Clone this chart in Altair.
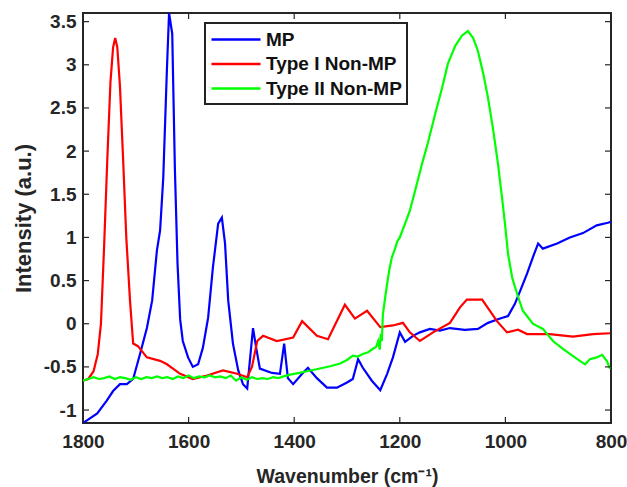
import altair as alt
import pandas as pd

# ---------------- data ----------------
series_names = ["MP", "Type I Non-MP", "Type II Non-MP"]
series_colors = ["#0000FF", "#FF0000", "#00FF00"]

mp_wn = [1800, 1773, 1755, 1743, 1730, 1717, 1705, 1692, 1679, 1669, 1660, 1654, 1648, 1641, 1637,
         1631, 1626, 1621, 1616, 1611, 1601, 1592, 1582, 1573, 1563, 1554, 1544, 1537, 1531, 1525,
         1516, 1506, 1497, 1489, 1484, 1478, 1472, 1465, 1442, 1427, 1419, 1412, 1402, 1385, 1374,
         1357, 1338, 1319, 1300, 1289, 1279, 1270, 1253, 1237, 1224, 1213, 1200, 1190, 1175, 1162,
         1143, 1124, 1105, 1077, 1052, 1033, 1010, 995, 982, 972, 959, 948, 938, 929, 902,
         878, 853, 827, 806, 800]
mp_val = [-1.15, -1.04, -0.89, -0.78, -0.70, -0.70, -0.64, -0.35, -0.05, 0.27, 0.85, 1.08, 1.69, 2.96, 3.60,
          3.36, 1.80, 0.70, 0.05, -0.20, -0.39, -0.50, -0.47, -0.28, 0.07, 0.65, 1.16, 1.23, 0.93, 0.27,
          -0.23, -0.54, -0.70, -0.75, -0.43, -0.05, -0.28, -0.52, -0.57, -0.58, -0.23, -0.63, -0.70, -0.58, -0.51,
          -0.63, -0.74, -0.74, -0.68, -0.64, -0.41, -0.51, -0.66, -0.77, -0.58, -0.39, -0.10, -0.21, -0.14, -0.10,
          -0.06, -0.08, -0.05, -0.07, -0.06, 0.01, 0.06, 0.09, 0.23, 0.38, 0.58, 0.77, 0.93, 0.87, 0.93,
          1.00, 1.05, 1.14, 1.17, 1.18]

t1_wn = [1800, 1790, 1780, 1772, 1766, 1760, 1754, 1748, 1743, 1739, 1735, 1730, 1724, 1718, 1711,
         1705, 1696, 1679, 1654, 1641, 1616, 1592, 1565, 1535, 1508, 1489, 1480, 1470, 1459, 1433,
         1402, 1385, 1357, 1336, 1304, 1285, 1262, 1237, 1213, 1194, 1181, 1162, 1137, 1105, 1086,
         1073, 1044, 1016, 997, 976, 959, 916, 872, 834, 802]
t1_val = [-0.66, -0.64, -0.55, -0.35, 0.00, 0.90, 1.90, 2.80, 3.20, 3.31, 3.20, 2.75, 1.90, 1.00, 0.27,
          -0.23, -0.26, -0.39, -0.43, -0.47, -0.58, -0.64, -0.60, -0.54, -0.58, -0.62, -0.50, -0.20, -0.14, -0.20,
          -0.16, 0.03, -0.14, -0.18, 0.22, 0.06, 0.15, -0.04, -0.02, 0.01, -0.10, -0.20, -0.10, 0.01, 0.19,
          0.28, 0.28, 0.03, -0.10, -0.07, -0.12, -0.12, -0.15, -0.12, -0.11]

t2_wn = [1800, 1790, 1780, 1770, 1760, 1750, 1740, 1730, 1720, 1710, 1700, 1690, 1680, 1670, 1660,
         1650, 1640, 1630, 1620, 1610, 1600, 1590, 1580, 1570, 1560, 1550, 1540, 1530, 1520, 1510,
         1500, 1490, 1480, 1470, 1460, 1450, 1440, 1430, 1420, 1408, 1390, 1376, 1360, 1345, 1330,
         1313, 1300, 1289, 1280, 1270, 1260, 1251, 1245, 1241, 1238, 1236, 1234, 1232, 1226, 1220,
         1215, 1209, 1205, 1200, 1190, 1181, 1171, 1158, 1147, 1133, 1120, 1109, 1095, 1082, 1071,
         1061, 1052, 1042, 1033, 1023, 1014, 1005, 1000, 995, 987, 978, 967, 948, 929, 910,
         891, 878, 859, 849, 840, 827, 817, 808, 802]
t2_val = [-0.66, -0.64, -0.62, -0.64, -0.63, -0.61, -0.64, -0.62, -0.63, -0.65, -0.62, -0.64, -0.62, -0.63, -0.61,
          -0.63, -0.62, -0.64, -0.61, -0.63, -0.60, -0.63, -0.61, -0.62, -0.60, -0.62, -0.61, -0.63, -0.60, -0.66,
          -0.62, -0.65, -0.62, -0.64, -0.63, -0.64, -0.62, -0.63, -0.61, -0.59, -0.57, -0.55, -0.53, -0.51, -0.49,
          -0.46, -0.42, -0.37, -0.38, -0.35, -0.33, -0.29, -0.27, -0.20, -0.30, -0.12, -0.20, 0.11, 0.38, 0.62,
          0.77, 0.87, 0.95, 1.00, 1.16, 1.31, 1.54, 1.85, 2.09, 2.43, 2.73, 3.01, 3.22, 3.34, 3.39,
          3.31, 3.16, 2.90, 2.62, 2.24, 1.85, 1.39, 1.11, 0.81, 0.53, 0.35, 0.15, 0.00, -0.06, -0.20,
          -0.29, -0.35, -0.43, -0.47, -0.41, -0.39, -0.36, -0.43, -0.52]

x_ticks = [800, 1000, 1200, 1400, 1600, 1800]
y_ticks = [-1, -0.5, 0, 0.5, 1, 1.5, 2, 2.5, 3, 3.5]

rows = []
for name, wn, val in zip(series_names, [mp_wn, t1_wn, t2_wn], [mp_val, t1_val, t2_val]):
    for w, v in zip(wn, val):
        rows.append({"series": name, "wn": w, "val": v})
df = pd.DataFrame(rows)
xt_df = pd.DataFrame({"wn": x_ticks})
yt_df = pd.DataFrame({"val": y_ticks})

FONT = "Liberation Sans"
DARK = "#262626"
W, H, TICK = 528, 410, 6

xscale = alt.Scale(domain=[800, 1800], reverse=True, nice=False, zero=False)
yscale = alt.Scale(domain=[-1.15, 3.6], nice=False, zero=False)

x_axis = alt.Axis(values=x_ticks, title="Wavenumber (cm⁻¹)", ticks=False, grid=False,
                  labelExpr="'' + datum.value", labelPadding=9, titlePadding=16,
                  labelFlush=False, domain=False, titleFontSize=19.5)
y_axis = alt.Axis(values=y_ticks, title="Intensity (a.u.)", ticks=False, grid=False,
                  labelExpr="'' + datum.value", labelPadding=7, titlePadding=8,
                  labelFlush=False, domain=False, titleFontSize=22)

lines = alt.Chart(df).mark_line(strokeWidth=2.2, clip=True).encode(
    x=alt.X("wn:Q", scale=xscale, axis=x_axis),
    y=alt.Y("val:Q", scale=yscale, axis=y_axis),
    color=alt.Color("series:N", scale=alt.Scale(domain=series_names, range=series_colors),
                    sort=series_names,
                    legend=alt.Legend(title=None, orient="none", legendX=122, legendY=10,
                                      symbolType="M-1,0H3.9", symbolSize=400, symbolStrokeWidth=2.5,
                                      labelOffset=33, labelFont=FONT, labelFontSize=19,
                                      labelFontWeight="bold", labelColor="#111111",
                                      padding=5, rowPadding=2.5,
                                      strokeColor="#222222", fillColor="white")),
)

def xticks(y0, y1):
    return alt.Chart(xt_df).mark_rule(color=DARK, strokeWidth=1.2).encode(
        x=alt.X("wn:Q", scale=xscale, axis=x_axis), y=alt.value(y0), y2=alt.value(y1))

def yticks(x0, x1):
    return alt.Chart(yt_df).mark_rule(color=DARK, strokeWidth=1.2).encode(
        y=alt.Y("val:Q", scale=yscale, axis=y_axis), x=alt.value(x0), x2=alt.value(x1))

chart = alt.layer(
    lines,
    xticks(0, TICK), xticks(H, H - TICK),
    yticks(0, TICK), yticks(W, W - TICK),
).properties(
    width=W, height=H,
    autosize=alt.AutoSizeParams(type="none"),
    padding={"left": 83, "top": 13, "right": 16, "bottom": 64},
).configure_view(
    stroke=DARK, strokeWidth=2
).configure_axis(
    labelFont=FONT, labelFontSize=19, labelFontWeight="bold", labelColor=DARK,
    titleFont=FONT, titleFontWeight="bold", titleColor=DARK,
).configure_legend(
    strokeWidth=2
)

chart.save("out.html", embed_options={"renderer": "svg", "actions": False})
